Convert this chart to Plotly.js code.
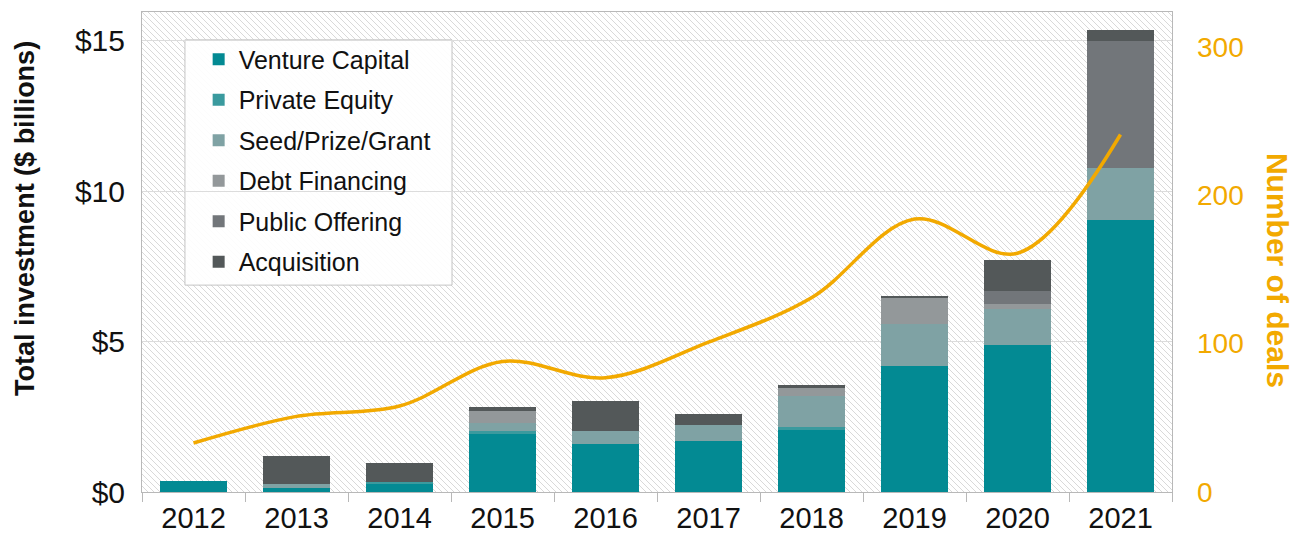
<!DOCTYPE html>
<html>
<head>
<meta charset="utf-8">
<script src="https://cdn.plot.ly/plotly-3.0.1.min.js"></script>
<style>
  html, body { margin: 0; padding: 0; background: #ffffff; }
  #chart { width: 1303px; height: 542px; }
</style>
</head>
<body>
<div id="chart"></div>
<script>
// ---- data ----
const years = ['2012','2013','2014','2015','2016','2017','2018','2019','2020','2021'];
const ventureCapital = [0.37, 0.14, 0.27, 1.92, 1.59, 1.68, 2.07, 4.20, 4.90, 9.03];
const privateEquity  = [0.00, 0.00, 0.07, 0.11, 0.00, 0.00, 0.10, 0.00, 0.00, 0.00];
const seedPrizeGrant = [0.00, 0.12, 0.00, 0.28, 0.44, 0.54, 1.01, 1.37, 1.19, 1.73];
const debtFinancing  = [0.00, 0.00, 0.00, 0.39, 0.00, 0.00, 0.28, 0.87, 0.17, 0.00];
const publicOffering = [0.00, 0.00, 0.00, 0.00, 0.00, 0.00, 0.00, 0.00, 0.42, 4.25];
const acquisition    = [0.00, 0.94, 0.62, 0.11, 0.98, 0.36, 0.10, 0.09, 1.02, 0.36];
const numberOfDeals  = [33, 51, 58, 88, 77, 101, 131, 184, 161, 241];
const leftTicks = [0, 5, 10, 15];
const leftTickText = ['$0', '$5', '$10', '$15'];
const rightTicks = [0, 100, 200, 300];

const seriesNames = ['Venture Capital','Private Equity','Seed/Prize/Grant','Debt Financing','Public Offering','Acquisition'];
const seriesValues = [ventureCapital, privateEquity, seedPrizeGrant, debtFinancing, publicOffering, acquisition];
const seriesColors = ['#038a93', '#3a9a9e', '#7fa2a4', '#93989a', '#72767a', '#535859'];
const amber = '#f2a900';

const traces = seriesNames.map((name, i) => ({
  type: 'bar',
  name: name,
  x: years,
  y: seriesValues[i],
  marker: { color: seriesColors[i], line: { width: 0 } },
  legendgroup: 'g' + i,
  hoverinfo: 'x+y+name'
}));
traces.push({
  type: 'scatter',
  mode: 'lines',
  name: 'Number of deals',
  x: years,
  y: numberOfDeals,
  yaxis: 'y2',
  line: { color: amber, width: 3.5, shape: 'spline', smoothing: 1 },
  showlegend: false
});

// hatch background image
const PW = 1030, PH = 480;
const svg = `<svg xmlns="http://www.w3.org/2000/svg" width="${PW}" height="${PH}" viewBox="0 0 ${PW} ${PH}">
<defs><pattern id="h" width="6" height="6" patternUnits="userSpaceOnUse">
<path d="M-1,-1 L7,7 M-1,5 L1,7 M5,-1 L7,1" stroke="#d9d9d9" stroke-width="1"/></pattern></defs>
<rect width="${PW}" height="${PH}" fill="#ffffff"/>
<rect width="${PW}" height="${PH}" fill="url(#h)"/></svg>`;
const hatchSrc = 'data:image/svg+xml;charset=utf-8,' + encodeURIComponent(svg);

const baseFont = 'Liberation Sans, Arial, sans-serif';

const layout = {
  width: 1303,
  height: 542,
  margin: { l: 142, r: 131, t: 12, b: 50 },
  paper_bgcolor: '#ffffff',
  plot_bgcolor: 'rgba(0,0,0,0)',
  barmode: 'stack',
  bargap: 0.34,
  font: { family: baseFont, color: '#111111' },
  showlegend: true,
  legend: {
    x: 0.055, y: 0.949, xanchor: 'left', yanchor: 'top',
    bgcolor: 'rgba(0,0,0,0)', borderwidth: 0,
    font: { size: 25, family: baseFont, color: '#111111' },
    traceorder: 'grouped',
    tracegroupgap: 5
  },
  xaxis: {
    type: 'category',
    categoryorder: 'array',
    categoryarray: years,
    showline: true, linecolor: '#b8b8b8', linewidth: 1,
    mirror: true,
    ticks: 'outside', tickson: 'boundaries', ticklen: 9, tickcolor: '#b8b8b8',
    tickfont: { size: 29, family: baseFont, color: '#111111' },
    showgrid: false, zeroline: false
  },
  yaxis: {
    range: [0, 15.96],
    tickvals: leftTicks,
    ticktext: leftTickText,
    tickfont: { size: 30, family: baseFont, color: '#111111' },
    showgrid: true, gridcolor: '#dcdcdc', gridwidth: 1,
    showline: true, linecolor: '#b8b8b8', linewidth: 1, mirror: true,
    zeroline: false, ticks: '',
    ticklabelstandoff: 10
  },
  yaxis2: {
    overlaying: 'y', side: 'right',
    range: [0, 323.6],
    tickvals: rightTicks,
    tickfont: { size: 28, family: baseFont, color: amber },
    showgrid: false, showline: false, zeroline: false, ticks: '',
    ticklabelstandoff: 24
  },
  images: [{
    source: hatchSrc, xref: 'paper', yref: 'paper',
    x: 0, y: 1, sizex: 1, sizey: 1, xanchor: 'left', yanchor: 'top',
    sizing: 'stretch', layer: 'below'
  }],
  shapes: [{
    type: 'rect', xref: 'paper', yref: 'paper',
    x0: 0.0417, x1: 0.301, y0: 0.431, y1: 0.942,
    fillcolor: 'rgba(255,255,255,0.9)',
    line: { color: '#c4c4c4', width: 1 },
    layer: 'below'
  }],
  annotations: [
    {
      text: 'Total investment ($ billions)', xref: 'paper', yref: 'paper',
      x: -0.1136, y: 0.571, xanchor: 'center', yanchor: 'middle',
      textangle: -90, showarrow: false,
      font: { size: 27, family: baseFont, color: '#111111', weight: 'bold' }
    },
    {
      text: 'Number of deals', xref: 'paper', yref: 'paper',
      x: 1.103, y: 0.4625, xanchor: 'center', yanchor: 'middle',
      textangle: 90, showarrow: false,
      font: { size: 30, family: baseFont, color: amber, weight: 'bold' }
    }
  ]
};

Plotly.newPlot('chart', traces, layout, { displayModeBar: false, staticPlot: true });
</script>
</body>
</html>
